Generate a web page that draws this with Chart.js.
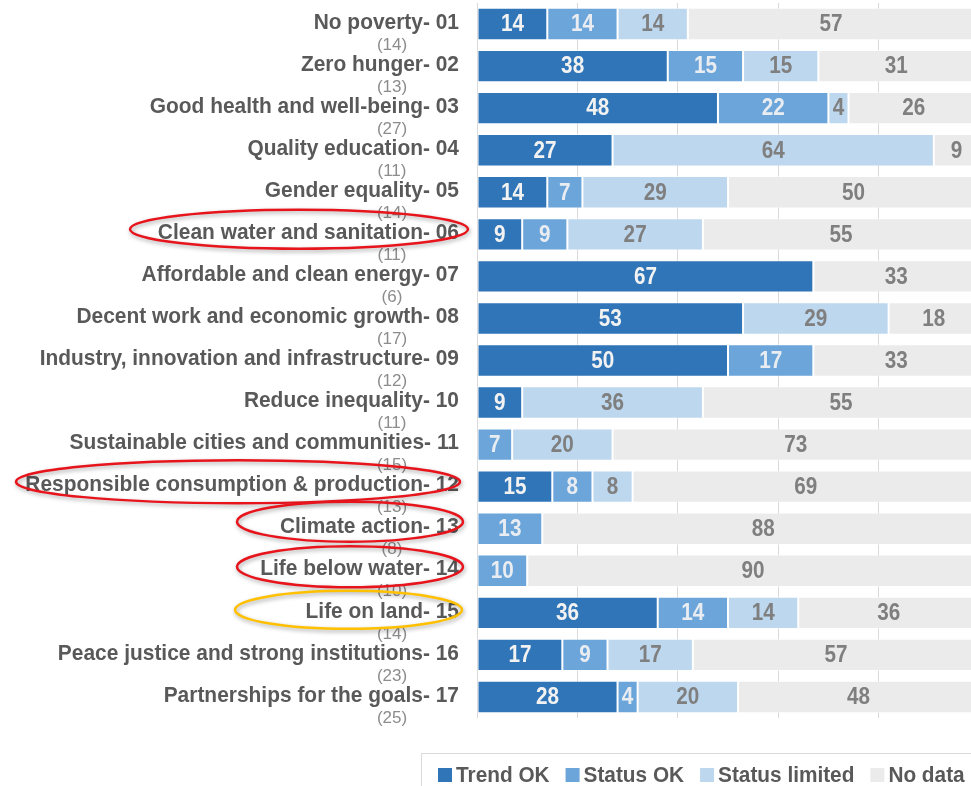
<!DOCTYPE html>
<html>
<head>
<meta charset="utf-8">
<script src="https://cdn.jsdelivr.net/npm/chart.js@4.4.1/dist/chart.umd.min.js"></script>
<style>
  html, body { margin: 0; padding: 0; background: #ffffff; overflow: hidden; }
  #wrap { width: 990px; height: 786px; }
</style>
</head>
<body>
<div id="wrap"><canvas id="c" width="990" height="786"></canvas></div>
<script>
// ---- data ----
const categories = [
  "No poverty- 01", "Zero hunger- 02", "Good health and well-being- 03", "Quality education- 04",
  "Gender equality- 05", "Clean water and sanitation- 06", "Affordable and clean energy- 07",
  "Decent work and economic growth- 08", "Industry, innovation and infrastructure- 09",
  "Reduce inequality- 10", "Sustainable cities and communities- 11",
  "Responsible consumption & production- 12", "Climate action- 13", "Life below water- 14",
  "Life on land- 15", "Peace justice and strong institutions- 16", "Partnerships for the goals- 17"
];
const counts = ["(14)", "(13)", "(27)", "(11)", "(14)", "(11)", "(6)", "(17)", "(12)", "(11)", "(15)", "(13)", "(8)", "(10)", "(14)", "(23)", "(25)"];
const trendOK      = [14, 38, 48, 27, 14,  9, 67, 53, 50,  9,  0, 15,  0,  0, 36, 17, 28];
const statusOK     = [14, 15, 22,  0,  7,  9,  0,  0, 17,  0,  7,  8, 13, 10, 14,  9,  4];
const statusLimited= [14, 15,  4, 64, 29, 27,  0, 29,  0, 36, 20,  8,  0,  0, 14, 17, 20];
const noData       = [57, 31, 26,  9, 50, 55, 33, 18, 33, 55, 73, 69, 88, 90, 36, 57, 48];
const seriesNames  = ["Trend OK", "Status OK", "Status limited", "No data"];
const xTicks = [0, 20, 40, 60, 80, 100];

// highlighted rows (annotation ellipses drawn around the category labels)
const highlights = [
  { row: 5,  x1: 130, x2: 468, dy: -5, ry: 19.5, color: "#e8141c" },
  { row: 11, x1: 16,  x2: 460, dy: -5, ry: 21.5, color: "#e8141c" },
  { row: 12, x1: 237, x2: 463, dy: -7, ry: 20,   color: "#e8141c" },
  { row: 13, x1: 237, x2: 463, dy: -4, ry: 20.5, color: "#e8141c" },
  { row: 14, x1: 235, x2: 462, dy: -3, ry: 19,   color: "#ffc000" }
];

const FONT = "'Liberation Sans', Arial, sans-serif";
const colors = ["#2f75b7", "#6ba5d9", "#bdd7ee", "#ebebeb"];
const labelColors = ["#f2f2f2", "#e9edf2", "#7f7f7f", "#7f7f7f"];
const seriesData = [trendOK, statusOK, statusLimited, noData];

// draws text slightly condensed horizontally (narrow, tall glyphs as in the reference)
function drawText(ctx, text, x, y, align, font, sx) {
  ctx.save();
  ctx.translate(x, y);
  ctx.scale(sx, 1);
  ctx.font = font;
  ctx.textAlign = align;
  ctx.textBaseline = "middle";
  ctx.fillText(text, 0, 0);
  const w = ctx.measureText(text).width * sx;
  ctx.restore();
  return w;
}

const valueLabels = {
  id: "valueLabels",
  afterDatasetsDraw(chart) {
    const ctx = chart.ctx;
    chart.data.datasets.forEach((ds, di) => {
      const meta = chart.getDatasetMeta(di);
      meta.data.forEach((el, i) => {
        const v = ds.data[i];
        if (!v) return;
        ctx.fillStyle = labelColors[di];
        drawText(ctx, String(v), (el.x + el.base) / 2, el.y + 1, "center", "bold 23px " + FONT, 0.9);
      });
    });
  }
};

const categoryLabels = {
  id: "categoryLabels",
  afterDraw(chart) {
    const ctx = chart.ctx;
    const ys = chart.scales.y;
    const left = chart.chartArea.left;
    ctx.save();
    categories.forEach((name, i) => {
      const y = ys.getPixelForValue(i);
      ctx.fillStyle = "#595959";
      drawText(ctx, name, left - 18, y - 1.5, "right", "bold 22.5px " + FONT, 0.93);
      ctx.fillStyle = "#8c8c8c";
      drawText(ctx, counts[i], left - 85, y + 21, "center", "17px " + FONT, 1);
    });
    // highlight ellipses
    highlights.forEach(h => {
      const y = ys.getPixelForValue(h.row) + h.dy;
      ctx.save();
      ctx.shadowColor = "rgba(0,0,0,0.35)";
      ctx.shadowBlur = 4;
      ctx.shadowOffsetX = 1;
      ctx.shadowOffsetY = 2;
      ctx.strokeStyle = h.color;
      ctx.lineWidth = 2.5;
      ctx.beginPath();
      ctx.ellipse((h.x1 + h.x2) / 2, y, (h.x2 - h.x1) / 2, h.ry, 0, 0, Math.PI * 2);
      ctx.stroke();
      ctx.restore();
    });
    ctx.restore();
  }
};

const customLegend = {
  id: "customLegend",
  afterDraw(chart) {
    const ctx = chart.ctx;
    ctx.save();
    ctx.strokeStyle = "#d9d9d9";
    ctx.lineWidth = 1;
    ctx.strokeRect(421.5, 753.5, 600, 60);
    let x = 438;
    const yc = 775;
    chart.data.datasets.forEach((ds) => {
      ctx.fillStyle = ds.backgroundColor;
      ctx.fillRect(x, yc - 7, 14, 14);
      x += 18;
      ctx.fillStyle = "#595959";
      const w = drawText(ctx, ds.label, x, yc + 1, "left", "bold 22px " + FONT, 0.945);
      x += w + 16;
    });
    ctx.restore();
  }
};

new Chart(document.getElementById("c"), {
  type: "bar",
  data: {
    labels: categories,
    datasets: seriesNames.map((name, i) => ({
      label: name,
      data: seriesData[i],
      backgroundColor: colors[i],
      borderColor: "rgba(255,255,255,0.55)",
      borderWidth: 1,
      borderSkipped: false,
      barPercentage: 0.77,
      categoryPercentage: 1.0
    }))
  },
  options: {
    indexAxis: "y",
    responsive: false,
    animation: false,
    layout: { padding: { left: 477, right: 11, top: 3, bottom: 68 } },
    plugins: {
      legend: { display: false },
      tooltip: { enabled: false }
    },
    scales: {
      x: {
        stacked: true,
        min: xTicks[0],
        max: xTicks[xTicks.length - 1],
        afterBuildTicks(scale) { scale.ticks = xTicks.map(v => ({ value: v })); },
        ticks: { display: false },
        grid: { color: "#d9d9d9", lineWidth: 1, drawTicks: false },
        border: { display: false }
      },
      y: {
        stacked: true,
        display: false
      }
    }
  },
  plugins: [valueLabels, categoryLabels, customLegend]
});
</script>
</body>
</html>
